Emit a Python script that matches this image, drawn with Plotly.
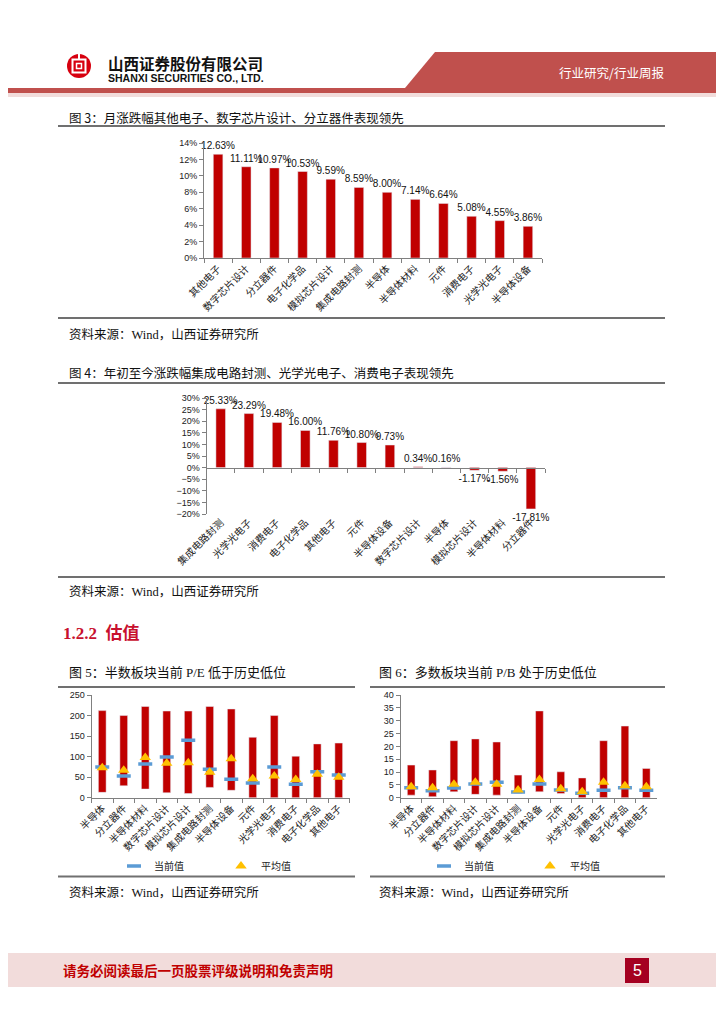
import plotly.graph_objects as go

# The page body keeps its default 8px margin, so the figure is 16px smaller than the window
OFF = 8
W, H = 724 - 2 * OFF, 1024 - 2 * OFF


def X(p):
    return (p - OFF) / W


def Y(p):
    return 1 - (p - OFF) / H


# ---------------- data ----------------
m_cats = ["其他电子", "数字芯片设计", "分立器件", "电子化学品", "模拟芯片设计", "集成电路封测",
          "半导体", "半导体材料", "元件", "消费电子", "光学光电子", "半导体设备"]
m_vals = [12.63, 11.11, 10.97, 10.53, 9.59, 8.59, 8.00, 7.14, 6.64, 5.08, 4.55, 3.86]

y_cats = ["集成电路封测", "光学光电子", "消费电子", "电子化学品", "其他电子", "元件",
          "半导体设备", "数字芯片设计", "半导体", "模拟芯片设计", "半导体材料", "分立器件"]
y_vals = [25.33, 23.29, 19.48, 16.00, 11.76, 10.80, 9.73, 0.34, 0.16, -1.17, -1.56, -17.81]

v_cats = ["半导体", "分立器件", "半导体材料", "数字芯片设计", "模拟芯片设计", "集成电路封测",
          "半导体设备", "元件", "光学光电子", "消费电子", "电子化学品", "其他电子"]
pe_max = [212, 200, 222, 211, 211, 222, 216, 147, 200, 101, 131, 133]
pe_min = [13, 29, 21, 12, 10, 25, 18, 0, 0, 0, 0, 0]
pe_cur = [75, 53, 82, 99, 140, 69, 45, 36, 75, 33, 63, 55]
pe_avg = [73, 67, 98, 84, 85, 62, 95, 46, 53, 44, 57, 50]

pb_max = [12.7, 10.8, 22.2, 22.9, 21.7, 8.8, 33.8, 10.1, 7.7, 22.2, 27.9, 11.4]
pb_min = [1.0, 0.4, 2.3, 1.3, 1.0, 1.7, 2.3, 1.6, 0, 0, 0, 0]
pb_cur = [3.9, 2.7, 3.8, 5.3, 6.0, 2.2, 5.3, 3.0, 1.7, 2.9, 3.9, 2.9]
pb_avg = [4.3, 3.9, 5.2, 6.0, 5.2, 3.0, 7.1, 3.5, 2.3, 6.0, 4.7, 4.3]

# ---------------- styles ----------------
RED = "#C00000"
BLUE = "#5B9BD5"
GOLD = "#FFC000"
AX = "#808080"
SANS = "Liberation Sans, Arial, Noto Sans CJK SC"
CJK = "Noto Sans CJK SC, Liberation Sans"
SERIF = "Liberation Serif, Noto Sans CJK SC"

fig = go.Figure()

# Fig 3
fig.add_trace(go.Bar(x=m_cats, y=m_vals, xaxis="x", yaxis="y", width=0.34,
                     marker_color=RED, showlegend=False,
                     texttemplate="%{y:.2f}%", textposition="outside",
                     textfont=dict(family=SANS, size=10, color="#111"),
                     constraintext="none", cliponaxis=False))
# Fig 4
fig.add_trace(go.Bar(x=y_cats, y=y_vals, xaxis="x2", yaxis="y2", width=0.34,
                     marker_color=RED, showlegend=False,
                     texttemplate="%{y:.2f}%", textposition="outside",
                     textfont=dict(family=SANS, size=10, color="#111"),
                     constraintext="none", cliponaxis=False))
fig.add_trace(go.Scatter(x=[], y=[], xaxis="x5", yaxis="y2", showlegend=False))

# Fig 5
fig.add_trace(go.Bar(x=v_cats, y=[a - b for a, b in zip(pe_max, pe_min)], base=pe_min,
                     xaxis="x3", yaxis="y3", width=0.36, marker_color=RED, showlegend=False))
fig.add_trace(go.Scatter(x=v_cats, y=pe_cur, xaxis="x3", yaxis="y3", mode="markers", name="当前值",
                         marker=dict(symbol="line-ew", size=10, line=dict(width=3.5, color=BLUE)),
                         legend="legend"))
fig.add_trace(go.Scatter(x=v_cats, y=pe_avg, xaxis="x3", yaxis="y3", mode="markers", name="平均值",
                         marker=dict(symbol="triangle-up", size=10, color=GOLD),
                         legend="legend"))
# Fig 6
fig.add_trace(go.Bar(x=v_cats, y=[a - b for a, b in zip(pb_max, pb_min)], base=pb_min,
                     xaxis="x4", yaxis="y4", width=0.36, marker_color=RED, showlegend=False))
fig.add_trace(go.Scatter(x=v_cats, y=pb_cur, xaxis="x4", yaxis="y4", mode="markers", name="当前值",
                         marker=dict(symbol="line-ew", size=10, line=dict(width=3.5, color=BLUE)),
                         legend="legend2"))
fig.add_trace(go.Scatter(x=v_cats, y=pb_avg, xaxis="x4", yaxis="y4", mode="markers", name="平均值",
                         marker=dict(symbol="triangle-up", size=10, color=GOLD),
                         legend="legend2"))


def yax(dom, rng, dtick, suffix=""):
    return dict(domain=dom, range=rng, dtick=dtick, ticksuffix=suffix, showgrid=False, zeroline=False,
                showline=True, linecolor=AX, linewidth=1, ticks="outside", ticklen=4, tickcolor=AX,
                tickfont=dict(family=SANS, size=9, color="#222"), fixedrange=True, automargin=False)


def xax(dom, anchor, showline=True, ticks="outside"):
    return dict(domain=dom, anchor=anchor, type="category", range=[-0.5, 11.5], showgrid=False,
                zeroline=False, showline=showline, linecolor=AX, linewidth=1, ticks=ticks,
                tickson="boundaries", ticklen=4, tickcolor=AX, tickangle=-45, automargin=False,
                tickfont=dict(family=CJK, size=10, color="#222"), fixedrange=True)


fig.update_layout(
    width=W, height=H, margin=dict(l=0, r=0, t=0, b=0, pad=0, autoexpand=False),
    autosize=False,
    paper_bgcolor="white", plot_bgcolor="rgba(0,0,0,0)",
    xaxis=xax([X(204), X(542)], "y"),
    yaxis=dict(yax([Y(258), Y(143)], [0, 14], 2, "%"), anchor="x"),
    xaxis2=xax([X(206.6), X(545)], "y2", showline=False, ticks=""),
    yaxis2=dict(yax([Y(514), Y(398)], [-20, 30], 5, "%"), anchor="x2"),
    xaxis5=dict(overlaying="x2", anchor="free", position=Y(467.7), range=[-0.5, 11.5],
                tickmode="array", tickvals=[i - 0.5 for i in range(13)], showticklabels=False,
                showline=True, linecolor=AX, linewidth=1, ticks="outside", ticklen=4, tickcolor=AX,
                showgrid=False, zeroline=False, fixedrange=True),
    xaxis3=xax([X(91.5), X(349.5)], "y3"),
    yaxis3=dict(yax([Y(797.7), Y(695)], [0, 250], 50), anchor="x3"),
    xaxis4=xax([X(400.5), X(657)], "y4"),
    yaxis4=dict(yax([Y(797.7), Y(695)], [0, 40], 5), anchor="x4"),
    legend=dict(orientation="h", x=X(114), y=Y(866), xanchor="left", yanchor="middle",
                entrywidth=62, entrywidthmode="pixels", bgcolor="rgba(0,0,0,0)",
                font=dict(family=CJK, size=10, color="#222")),
    legend2=dict(orientation="h", x=X(424), y=Y(866), xanchor="left", yanchor="middle",
                 entrywidth=61, entrywidthmode="pixels", bgcolor="rgba(0,0,0,0)",
                 font=dict(family=CJK, size=10, color="#222")),
)

shapes = []
annos = []

# ---- header ----
shapes.append(dict(type="path", xref="paper", yref="paper",
                   path=f"M {X(435)},{Y(52)} L {X(740)},{Y(52)} L {X(740)},{Y(88)} L {X(405)},{Y(88)} Z",
                   fillcolor="#C0504D", line=dict(width=0)))
shapes.append(dict(type="rect", xref="paper", yref="paper", x0=X(-10), x1=X(740), y0=Y(93), y1=Y(88),
                   fillcolor="#C0504D", line=dict(width=0)))
shapes.append(dict(type="rect", xref="paper", yref="paper", x0=X(-10), x1=X(740), y0=Y(97), y1=Y(93),
                   fillcolor="#F2DCDB", line=dict(width=0)))
# logo
shapes.append(dict(type="circle", xref="paper", yref="paper", x0=X(67), x1=X(91), y0=Y(78), y1=Y(54),
                   fillcolor="#D7000F", line=dict(width=0)))
shapes.append(dict(type="rect", xref="paper", yref="paper", x0=X(72.5), x1=X(85.5), y0=Y(72.5), y1=Y(59.5),
                   fillcolor="rgba(0,0,0,0)", line=dict(width=2, color="white")))
shapes.append(dict(type="rect", xref="paper", yref="paper", x0=X(76.5), x1=X(81.5), y0=Y(68.5), y1=Y(63.5),
                   fillcolor="rgba(0,0,0,0)", line=dict(width=1.5, color="white")))
shapes.append(dict(type="rect", xref="paper", yref="paper", x0=X(78), x1=X(80), y0=Y(60), y1=Y(53),
                   fillcolor="white", line=dict(width=0)))
annos.append(dict(text="<b>山西证券股份有限公司</b>", x=X(106), y=Y(63), xref="paper", yref="paper",
                  xanchor="left", yanchor="middle", showarrow=False,
                  font=dict(family=CJK, size=15.5, color="#111")))
annos.append(dict(text="<b>SHANXI SECURITIES CO., LTD.</b>", x=X(106), y=Y(78), xref="paper", yref="paper",
                  xanchor="left", yanchor="middle", showarrow=False,
                  font=dict(family=SANS, size=10.5, color="#111")))
annos.append(dict(text="行业研究/行业周报", x=X(557), y=Y(72), xref="paper", yref="paper",
                  xanchor="left", yanchor="middle", showarrow=False,
                  font=dict(family=CJK, size=12.5, color="white")))

# ---- section lines ----
def hline(y, x0, x1):
    shapes.append(dict(type="line", xref="paper", yref="paper", x0=X(x0), x1=X(x1), y0=Y(y), y1=Y(y),
                       line=dict(color="#707070", width=2)))


for yy in (126, 318, 383, 577):
    hline(yy, 58, 665)
hline(687, 58, 355)
hline(876.5, 58, 355)
hline(687, 370, 665)
hline(876.5, 370, 665)


def text(t, x, y, size=12.5, family=CJK, color="#111"):
    annos.append(dict(text=t, x=X(x), y=Y(y), xref="paper", yref="paper", xanchor="left",
                      yanchor="middle", showarrow=False, font=dict(family=family, size=size, color=color)))


text("图 3：月涨跌幅其他电子、数字芯片设计、分立器件表现领先", 67, 117, 12.5)
text("资料来源：Wind，山西证券研究所", 67, 335, 12.5, SERIF)
text("图 4：年初至今涨跌幅集成电路封测、光学光电子、消费电子表现领先", 67, 372, 12.5)
text("资料来源：Wind，山西证券研究所", 67, 591, 12.5, SERIF)
text("<b>1.2.2  估值</b>", 61, 633, 17, SERIF, "#C8102E")
text("图 5：半数板块当前 P/E 低于历史低位", 67, 672, 13, SERIF)
text("图 6：多数板块当前 P/B 处于历史低位", 377, 672, 13, SERIF)
text("资料来源：Wind，山西证券研究所", 67, 892, 12.5, SERIF)
text("资料来源：Wind，山西证券研究所", 377, 892, 12.5, SERIF)

# ---- footer ----
shapes.append(dict(type="rect", xref="paper", yref="paper", x0=X(-10), x1=X(740), y0=Y(987), y1=Y(953),
                   fillcolor="#F2DCDB", line=dict(width=0)))
shapes.append(dict(type="rect", xref="paper", yref="paper", x0=X(625), x1=X(649), y0=Y(983), y1=Y(958),
                   fillcolor="#A50021", line=dict(width=0)))
text("<b>请务必阅读最后一页股票评级说明和免责声明</b>", 61, 970, 13.5, CJK, "#C00000")
annos.append(dict(text="5", x=X(637), y=Y(970.5), xref="paper", yref="paper", xanchor="center",
                  yanchor="middle", showarrow=False, font=dict(family=SANS, size=16, color="white")))

fig.update_layout(shapes=shapes, annotations=annos)

fig.write_html("out.html")
